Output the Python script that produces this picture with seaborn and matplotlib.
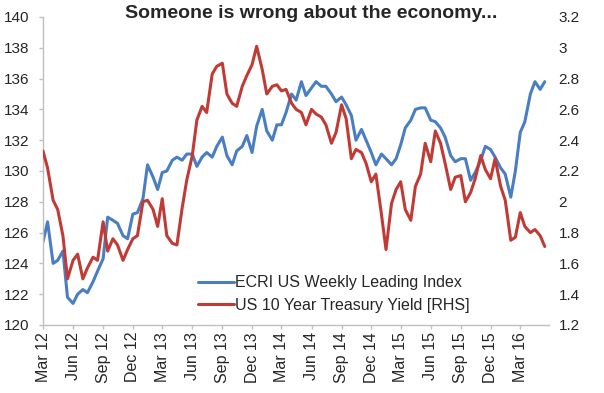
import pandas as pd
import numpy as np
import matplotlib.pyplot as plt
import matplotlib.dates as mdates
from matplotlib.ticker import FuncFormatter
import seaborn as sns

# --- dados (semi-mensais) ---
inicio = '2012-03-01'

ecri_wli = [125.4, 126.7, 124.0, 124.2, 124.8, 121.8, 121.4, 122.0, 122.3, 122.1,
            122.8, 123.5, 124.3, 127.0, 126.8, 126.6, 125.8, 125.6, 127.2, 127.3,
            128.2, 130.4, 129.6, 128.8, 129.9, 130.0, 130.7, 130.9, 130.7, 131.1,
            131.1, 130.3, 130.9, 131.2, 130.9, 131.6, 132.2, 131.0, 130.4, 131.3,
            131.6, 132.3, 131.2, 132.9, 134.0, 132.6, 132.0, 133.0, 133.0, 133.8,
            135.0, 134.6, 135.8, 134.9, 135.4, 135.8, 135.5, 135.5, 135.0, 134.5,
            134.8, 134.3, 133.6, 132.0, 132.7, 132.0, 131.2, 130.4, 131.1, 130.8,
            130.4, 130.8, 131.7, 132.8, 133.3, 134.0, 134.1, 134.1, 133.3, 133.2,
            132.8, 132.2, 131.0, 130.6, 130.8, 130.8, 129.4, 129.9, 130.7, 131.6,
            131.4, 130.9, 130.2, 129.8, 128.3, 130.0, 132.5, 133.2, 135.0, 135.8,
            135.3, 135.8]

ust10y = [2.33, 2.22, 2.01, 1.95, 1.78, 1.50, 1.62, 1.66, 1.50, 1.57,
          1.64, 1.62, 1.87, 1.68, 1.76, 1.72, 1.62, 1.69, 1.76, 1.78,
          2.00, 2.01, 1.95, 1.84, 2.02, 1.78, 1.73, 1.72, 1.96, 2.14,
          2.30, 2.53, 2.62, 2.58, 2.83, 2.88, 2.90, 2.70, 2.64, 2.62,
          2.75, 2.82, 2.89, 3.01, 2.86, 2.70, 2.75, 2.76, 2.72, 2.73,
          2.64, 2.60, 2.58, 2.50, 2.60, 2.57, 2.55, 2.50, 2.38, 2.45,
          2.63, 2.54, 2.28, 2.34, 2.32, 2.25, 2.13, 2.18, 1.92, 1.69,
          1.99, 2.08, 2.13, 1.95, 1.88, 2.10, 2.18, 2.38, 2.26, 2.46,
          2.38, 2.25, 2.08, 2.16, 2.17, 2.00, 2.06, 2.15, 2.30, 2.21,
          2.15, 2.28, 2.10, 2.01, 1.75, 1.77, 1.93, 1.84, 1.80, 1.82,
          1.78, 1.71]

titulo = 'Someone is wrong about the economy...'
rotulo_ecri = 'ECRI US Weekly Leading Index'
rotulo_ust = 'US 10 Year Treasury Yield [RHS]'

cor_azul = '#4a7ec2'
cor_vermelha = '#c13b36'
cor_eixo = '#bfbfbf'

datas = pd.date_range(inicio, periods=len(ecri_wli), freq='SMS')
df = pd.DataFrame({'data': datas, 'ecri': ecri_wli, 'ust': ust10y})

sns.set_style('white')
plt.rcParams['font.family'] = ['Liberation Sans', 'DejaVu Sans']

fig = plt.figure(figsize=(6.04, 3.93), dpi=100)
ax = fig.add_axes([43 / 604, 1 - 325 / 393, (549 - 43) / 604, (325 - 17) / 393])
ax2 = ax.twinx()

sns.lineplot(data=df, x='data', y='ecri', ax=ax, color=cor_azul, linewidth=2.2,
             label=rotulo_ecri, legend=False)
sns.lineplot(data=df, x='data', y='ust', ax=ax2, color=cor_vermelha, linewidth=2.2,
             label=rotulo_ust, legend=False)

# eixo esquerdo
ax.set_ylim(120, 140)
ax.set_yticks(np.arange(120, 141, 2))
ax.set_xlim(pd.Timestamp('2012-03-01'), pd.Timestamp('2016-05-28'))
ax.xaxis.set_major_locator(mdates.MonthLocator(bymonth=[3, 6, 9, 12]))
ax.xaxis.set_major_formatter(mdates.DateFormatter('%b %y'))
ax.set_xlabel('')
ax.set_ylabel('')
ax.tick_params(axis='x', rotation=90, labelsize=11.5, direction='out', length=3,
               width=1, color=cor_eixo, pad=2, bottom=True)
ax.tick_params(axis='y', labelsize=11, direction='out', length=3, width=1,
               color=cor_eixo, pad=7, left=True)

# eixo direito
ax2.set_ylim(1.2, 3.2)
ax2.set_yticks(np.round(np.arange(1.2, 3.21, 0.2), 1))
ax2.yaxis.set_major_formatter(FuncFormatter(lambda v, p: f'{v:g}'))
ax2.set_ylabel('')
ax2.tick_params(axis='y', labelsize=11, length=0, pad=7)

for a in (ax, ax2):
    a.spines['top'].set_visible(False)
    a.spines['right'].set_visible(False)
ax2.spines['left'].set_visible(False)
ax2.spines['bottom'].set_visible(False)
for lado in ('left', 'bottom'):
    ax.spines[lado].set_color(cor_eixo)
    ax.spines[lado].set_linewidth(1)

# legenda
linhas = ax.get_lines() + ax2.get_lines()
fig.legend(linhas, [rotulo_ecri, rotulo_ust], loc='upper left',
           bbox_to_anchor=(184 / 604, 1 - 261 / 393), frameon=False,
           fontsize=11.5, handlelength=2.2, handletextpad=0.1, labelspacing=0.45)

fig.text(311 / 604, 1 - 14 / 393, titulo, ha='center', va='center',
         fontsize=14, fontweight='bold')

fig.savefig('out.png', dpi=100)
